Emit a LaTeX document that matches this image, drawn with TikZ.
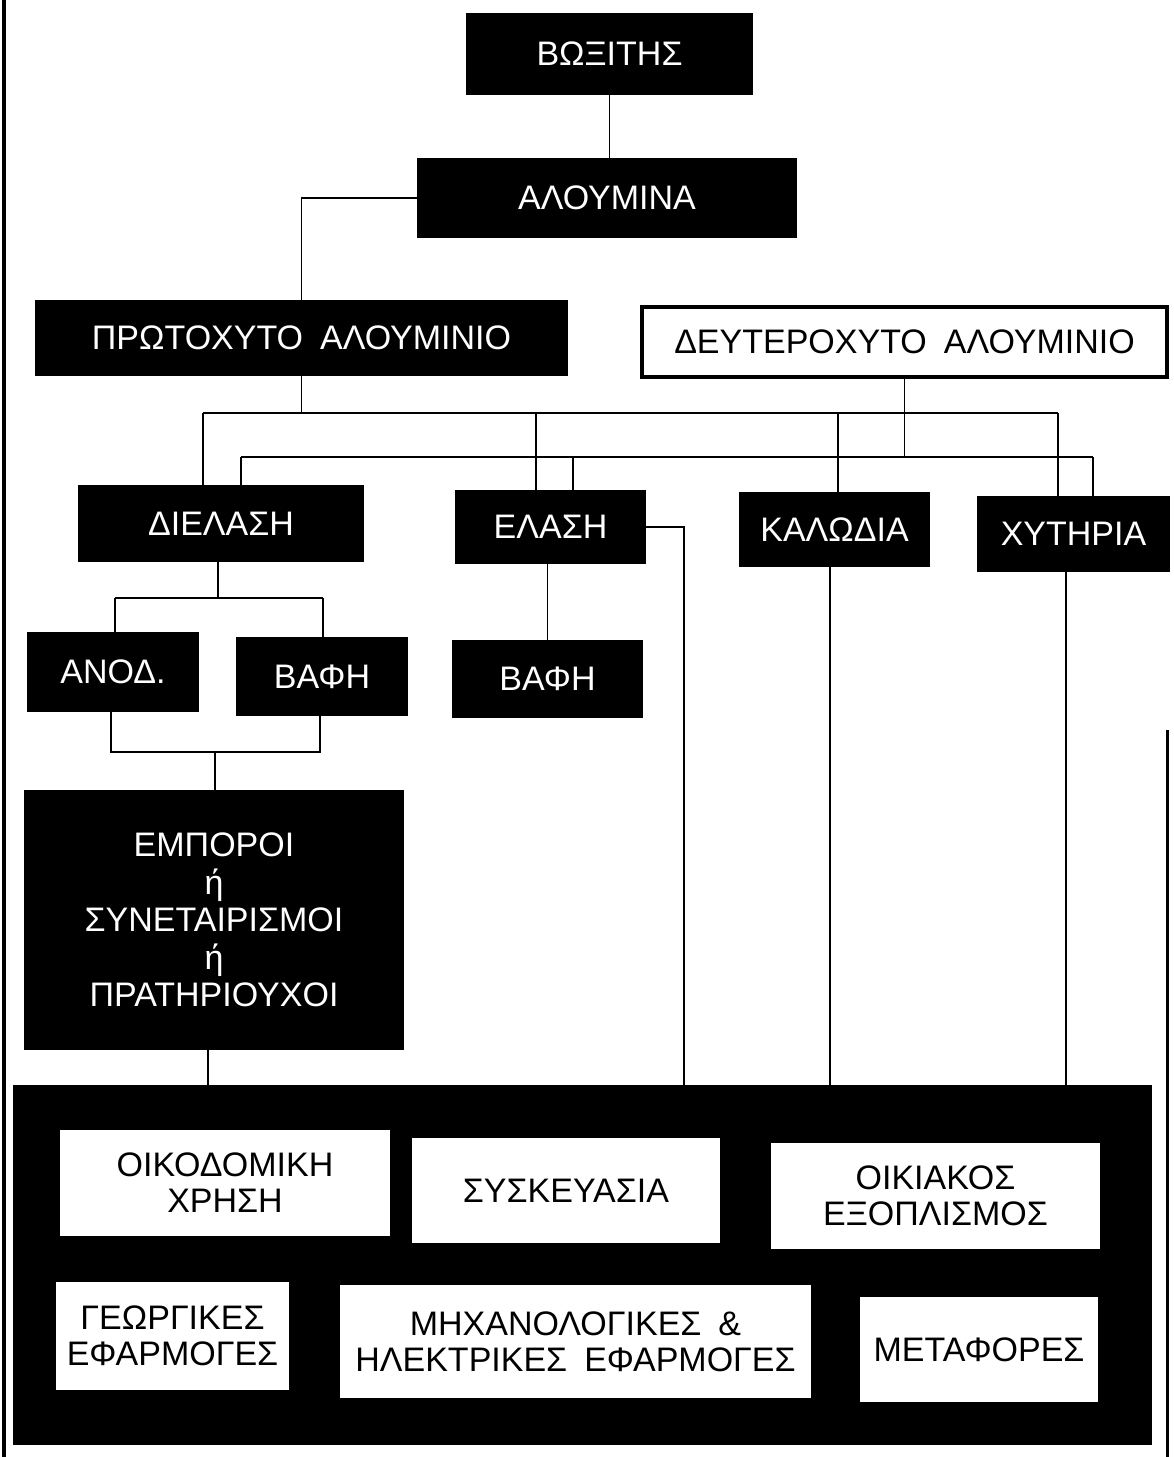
\documentclass[tikz,border=0pt]{standalone}
\usepackage{fontspec}
\setmainfont{Liberation Sans}[WordSpace=1.8]
\begin{document}
\begin{tikzpicture}[x=1pt,y=-1pt,
  lbl/.style={font=\fontsize{34}{36}\selectfont, align=center, inner sep=0pt},
  darkbox/.style={lbl, fill=black, text=white},
  whitebox/.style={lbl, fill=white, text=black},
  outlinebox/.style={lbl, fill=white, text=black, draw=black, line width=3.5pt},
  conn/.style={line width=1.6pt, draw=black},
  frame/.style={line width=4pt, draw=black}]
\useasboundingbox (0,0) rectangle (1174,1457);
\fill[white] (0,0) rectangle (1174,1457);
% page edge lines
\coordinate (lt) at (4,0);
\coordinate (lb) at (4,1457);
\coordinate (rt) at (1167,730);
\coordinate (rb) at (1167,1457);
\draw[frame] (lt) -- (lb);
\draw[frame, line width=3pt] (rt) -- (rb);

% top chain
\node[darkbox, minimum width=287pt, minimum height=82pt] (bx) at (609.5,54) {ΒΩΞΙΤΗΣ};
\node[darkbox, minimum width=380pt, minimum height=80pt] (al) at (607,198) {ΑΛΟΥΜΙΝΑ};
\node[darkbox, minimum width=533pt, minimum height=76pt] (pr) at (301.5,338) {ΠΡΩΤΟΧΥΤΟ ΑΛΟΥΜΙΝΙΟ};
\node[outlinebox, minimum width=525pt, minimum height=70pt] (de) at (904.5,342) {ΔΕΥΤΕΡΟΧΥΤΟ ΑΛΟΥΜΙΝΙΟ};

\node[darkbox, minimum width=286pt, minimum height=77pt] (di) at (221,523.5) {ΔΙΕΛΑΣΗ};
\node[darkbox, minimum width=191pt, minimum height=74pt] (el) at (550.5,527) {ΕΛΑΣΗ};
\node[darkbox, minimum width=191pt, minimum height=75pt] (ka) at (834.5,529.5) {ΚΑΛΩΔΙΑ};
\node[darkbox, minimum width=193pt, minimum height=76pt] (xy) at (1073.5,534) {ΧΥΤΗΡΙΑ};

\node[darkbox, minimum width=172pt, minimum height=80pt] (an) at (113,672) {ΑΝΟΔ.};
\node[darkbox, minimum width=172pt, minimum height=79pt] (bf1) at (322,676.5) {ΒΑΦΗ};
\node[darkbox, minimum width=191pt, minimum height=78pt] (bf2) at (547.5,679) {ΒΑΦΗ};

\node[darkbox, minimum width=380pt, minimum height=260pt, font=\fontsize{34}{37.5}\selectfont] (em) at (214,920)
  {ΕΜΠΟΡΟΙ\\ή\\ΣΥΝΕΤΑΙΡΙΣΜΟΙ\\ή\\ΠΡΑΤΗΡΙΟΥΧΟΙ};

% bottom panel
\node[fill=black, inner sep=0pt, minimum width=1139pt, minimum height=360pt] (base) at (582.5,1265) {};
\node[whitebox, minimum width=330pt, minimum height=106pt] (u1) at (225,1183) {ΟΙΚΟΔΟΜΙΚΗ\\ΧΡΗΣΗ};
\node[whitebox, minimum width=308pt, minimum height=105pt] (u2) at (566,1190.5) {ΣΥΣΚΕΥΑΣΙΑ};
\node[whitebox, minimum width=329pt, minimum height=106pt] (u3) at (935.5,1196) {ΟΙΚΙΑΚΟΣ\\ΕΞΟΠΛΙΣΜΟΣ};
\node[whitebox, minimum width=233pt, minimum height=108pt] (u4) at (172.5,1336) {ΓΕΩΡΓΙΚΕΣ\\ΕΦΑΡΜΟΓΕΣ};
\node[whitebox, minimum width=471pt, minimum height=113pt] (u5) at (575.5,1341.5) {ΜΗΧΑΝΟΛΟΓΙΚΕΣ \&\\ΗΛΕΚΤΡΙΚΕΣ ΕΦΑΡΜΟΓΕΣ};
\node[whitebox, minimum width=238pt, minimum height=105pt] (u6) at (979,1349.5) {ΜΕΤΑΦΟΡΕΣ};

% connectors: top
\draw[conn] (bx.south) -- (bx.south |- al.north);
\draw[conn] (al.west) -| (pr.north);

% bus from primary aluminium
\coordinate (b1L) at (203,413);
\coordinate (b1R) at (1058,413);
\coordinate (b1e) at (536,413);
\coordinate (b1k) at (838,413);
\draw[conn] (pr.south) -- (pr.south |- b1L);
\draw[conn] (b1L) -- (b1R);
\draw[conn] (b1L) -- (b1L |- di.north);
\draw[conn] (b1e) -- (b1e |- el.north);
\draw[conn] (b1k) -- (b1k |- ka.north);
\draw[conn] (b1R) -- (b1R |- xy.north);

% bus from secondary aluminium
\coordinate (b2L) at (241,457);
\coordinate (b2R) at (1093,457);
\coordinate (b2e) at (573,457);
\draw[conn] (de.south) -- (de.south |- b2L);
\draw[conn] (b2L) -- (b2R);
\draw[conn] (b2L) -- (b2L |- di.north);
\draw[conn] (b2e) -- (b2e |- el.north);
\draw[conn] (b2R) -- (b2R |- xy.north);

% extrusion branch
\coordinate (b3m) at (218,598);
\coordinate (b3L) at (115,598);
\coordinate (b3R) at (323,598);
\draw[conn] (b3m |- di.south) -- (b3m);
\draw[conn] (b3L) -- (b3R);
\draw[conn] (b3L) -- (b3L |- an.north);
\draw[conn] (b3R) -- (b3R |- bf1.north);

\coordinate (b4L) at (111,752);
\coordinate (b4R) at (320,752);
\coordinate (b4m) at (215,752);
\draw[conn] (b4L |- an.south) -- (b4L) -- (b4R) -- (b4R |- bf1.south);
\draw[conn] (b4m) -- (b4m |- em.north);

% rolling branch
\draw[conn] (el.south -| bf2.north) -- (bf2.north);
\coordinate (eR) at (684,0);
\draw[conn] (el.east) -| (eR |- base.north);

% to end uses
\coordinate (kd) at (830,0);
\coordinate (xd) at (1066,0);
\coordinate (md) at (208,0);
\draw[conn] (kd |- ka.south) -- (kd |- base.north);
\draw[conn] (xd |- xy.south) -- (xd |- base.north);
\draw[conn] (md |- em.south) -- (md |- base.north);
\end{tikzpicture}
\end{document}
